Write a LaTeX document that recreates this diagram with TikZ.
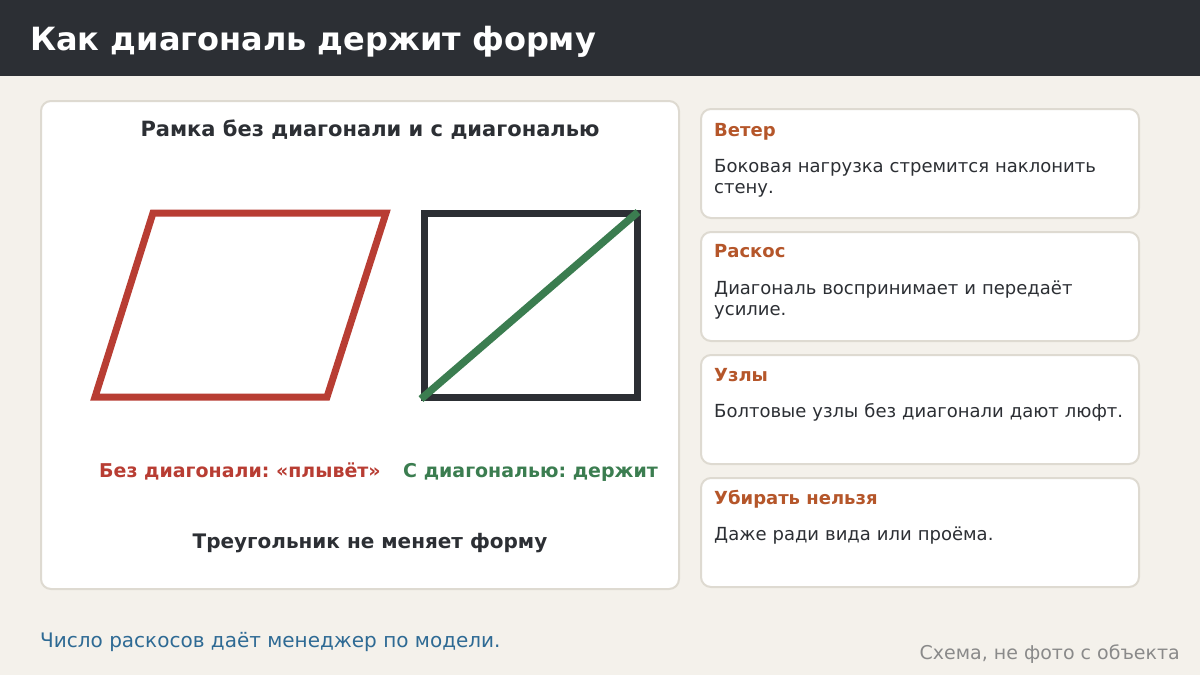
\documentclass[tikz,border=0pt]{standalone}
\usepackage{fontspec}
\setmainfont{DejaVu Sans}
\frenchspacing
\definecolor{bg}{HTML}{F4F1EB}
\definecolor{dark}{HTML}{2C2F34}
\definecolor{cardborder}{HTML}{DEDAD1}
\definecolor{redc}{HTML}{B83D33}
\definecolor{greenc}{HTML}{3B7D50}
\definecolor{orangec}{HTML}{B5562A}
\definecolor{bluec}{HTML}{2E6A94}
\definecolor{greyc}{HTML}{8A8A8A}
\tikzset{
  panel/.style={draw=cardborder, line width=2pt, fill=white, rounded corners=10pt},
  cardtitle/.style={anchor=base west, text=orangec, font=\fontsize{18}{21}\selectfont\bfseries, inner sep=0pt},
  cardbody/.style={anchor=base west, text=dark, font=\fontsize{18}{21}\selectfont, inner sep=0pt, align=left, text width=420pt},
  thick7/.style={line width=7pt},
}
\begin{document}
\begin{tikzpicture}[x=1pt,y=-1pt]
\useasboundingbox (0,0) rectangle (1200,675);
\fill[bg] (0,0) rectangle (1200,675);
\fill[dark] (0,0) rectangle (1200,76);
\node[anchor=base west, inner sep=0pt, text=white, font=\fontsize{32}{36}\selectfont\bfseries] (title) at (30,50) {Как диагональ держит форму};

% left panel
\draw[panel] (41,101) rectangle (679,589);
\node[anchor=base, inner sep=0pt, text=dark, font=\fontsize{21}{24}\selectfont\bfseries] (ptitle) at (370,136) {Рамка без диагонали и с диагональю};

% parallelogram
\coordinate (p1) at (153,213);
\coordinate (p2) at (386,213);
\coordinate (p3) at (327,397);
\coordinate (p4) at (95,397);
\draw[redc, thick7, line join=miter] (p1) -- (p2) -- (p3) -- (p4) -- cycle;

% braced rectangle
\coordinate (r1) at (424,213);
\coordinate (r2) at (637,397);
\draw[dark, thick7] (r1) rectangle (r2);
\coordinate (d1) at (421,399);
\coordinate (d2) at (638,212);
\draw[greenc, line width=7.5pt] (d1) -- (d2);

\node[anchor=base west, inner sep=0pt, text=redc, font=\fontsize{19}{22}\selectfont\bfseries] (lred) at (99,477) {Без диагонали: «плывёт»};
\node[anchor=base west, inner sep=0pt, text=greenc, font=\fontsize{19}{22}\selectfont\bfseries] (lgreen) at (403,477) {С диагональю: держит};
\node[anchor=base, inner sep=0pt, text=dark, font=\fontsize{20}{24}\selectfont\bfseries] (tri) at (370,548) {Треугольник не меняет форму};

% cards
\draw[panel] (701,109) rectangle (1139,218);
\node[cardtitle] (t1) at (714,136) {Ветер};
\node[cardbody] (b1) at (714,172) {Боковая нагрузка стремится наклонить\\стену.};

\draw[panel] (701,232) rectangle (1139,341);
\node[cardtitle] (t2) at (714,257) {Раскос};
\node[cardbody] (b2) at (714,294) {Диагональ воспринимает и передаёт\\усилие.};

\draw[panel] (701,355) rectangle (1139,464);
\node[cardtitle] (t3) at (714,381) {Узлы};
\node[cardbody] (b3) at (714,417) {Болтовые узлы без диагонали дают люфт.};

\draw[panel] (701,478) rectangle (1139,587);
\node[cardtitle] (t4) at (714,504) {Убирать нельзя};
\node[cardbody] (b4) at (714,540) {Даже ради вида или проёма.};

% footer
\node[anchor=base west, inner sep=0pt, text=bluec, font=\fontsize{20}{24}\selectfont] (f1) at (40,647) {Число раскосов даёт менеджер по модели.};
\node[anchor=base east, inner sep=0pt, text=greyc, font=\fontsize{19}{22}\selectfont] (f2) at (1180,659) {Схема, не фото с объекта};
\end{tikzpicture}
\end{document}
